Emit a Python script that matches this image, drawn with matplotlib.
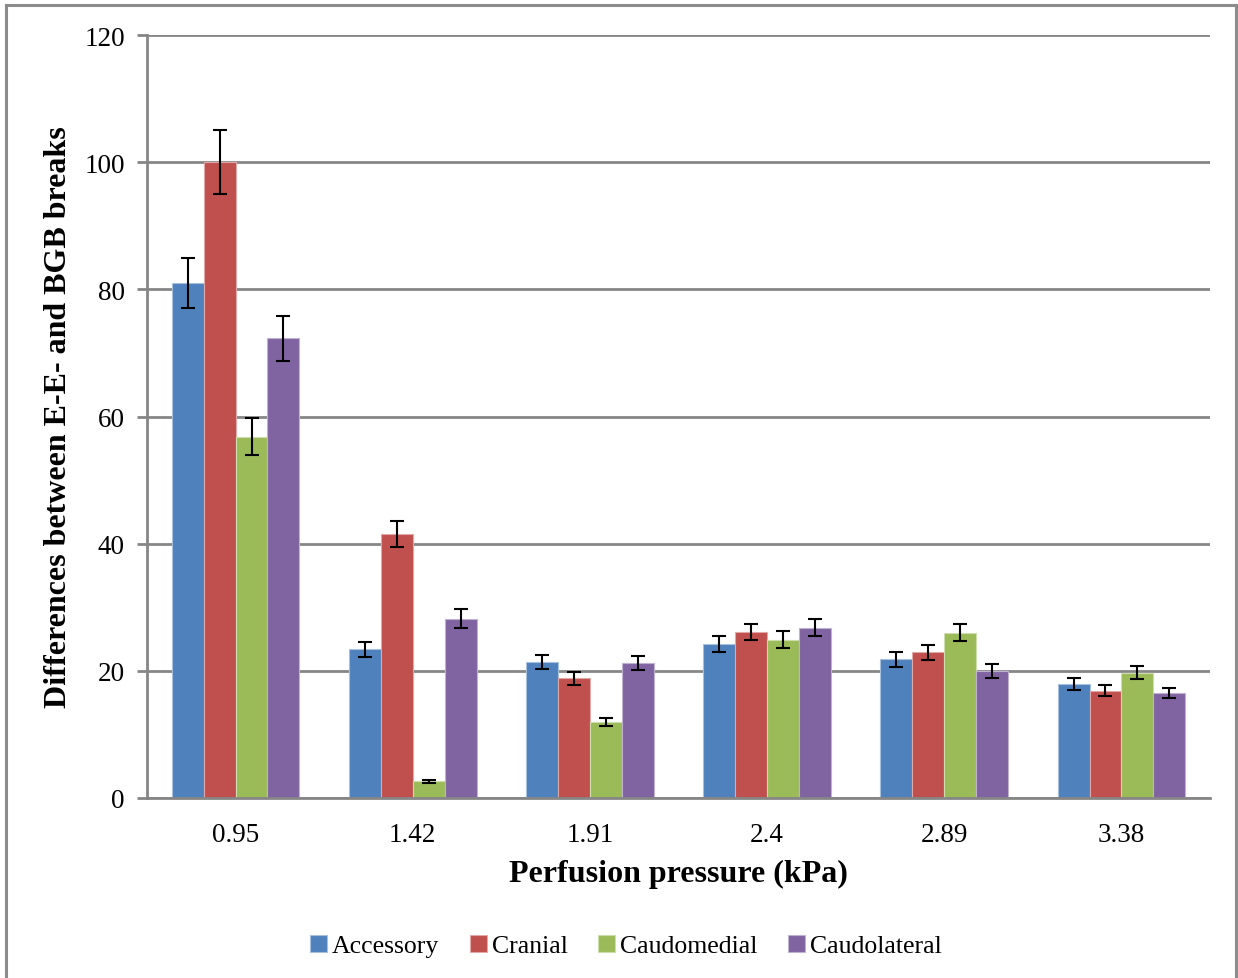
import numpy as np
import matplotlib
matplotlib.use("Agg")
import matplotlib.pyplot as plt
from matplotlib.lines import Line2D

plt.rcParams["font.family"] = ["Liberation Serif", "DejaVu Serif"]

# data
pressures = ["0.95", "1.42", "1.91", "2.4", "2.89", "3.38"]
series = ["Accessory", "Cranial", "Caudomedial", "Caudolateral"]

accessory = [81.0, 23.4, 21.4, 24.2, 21.8, 18.0]
cranial = [100.0, 41.5, 18.8, 26.1, 22.9, 16.9]
caudomedial = [56.8, 2.6, 12.0, 24.9, 26.0, 19.7]
caudolateral = [72.3, 28.2, 21.3, 26.8, 20.0, 16.5]

accessory_err = [4.0, 1.2, 1.1, 1.2, 1.15, 0.95]
cranial_err = [5.0, 2.1, 1.0, 1.3, 1.2, 0.85]
caudomedial_err = [2.9, 0.2, 0.65, 1.3, 1.35, 1.0]
caudolateral_err = [3.5, 1.5, 1.1, 1.4, 1.1, 0.85]

COLORS = ["#4F81BD", "#C0504D", "#9BBB59", "#8064A2"]
EDGES = ["#A7C0DE", "#E0A8A6", "#CDDDAC", "#BFB1D0"]

values = [accessory, cranial, caudomedial, caudolateral]
errors = [accessory_err, cranial_err, caudomedial_err, caudolateral_err]

fig = plt.figure(figsize=(12.38, 9.79), dpi=100)
ax = fig.add_axes([147 / 1238, 1 - 799 / 979, 1063 / 1238, 763 / 979])

# outer chart border
for xs, ys in [([6 / 1238, 1236 / 1238], [1 - 6 / 979] * 2),
               ([6 / 1238] * 2, [0, 1 - 6 / 979]),
               ([1236 / 1238] * 2, [0, 1 - 6 / 979])]:
    fig.add_artist(Line2D(xs, ys, color="#8C8C8C", linewidth=2.2))

x = np.arange(len(pressures))
width = 0.18
for i, (vals, errs) in enumerate(zip(values, errors)):
    pos = x + (i - 1.5) * width
    ax.bar(pos, vals, width, color=COLORS[i], edgecolor=EDGES[i],
           linewidth=0.8, label=series[i], zorder=3)
    ax.errorbar(pos, vals, yerr=errs, fmt="none", ecolor="black",
                elinewidth=1.5, capsize=5, capthick=1.5, zorder=4)

ax.set_xlim(-0.5, len(pressures) - 0.5)
ax.set_ylim(0, 120)
ax.set_yticks(range(0, 121, 20))
ax.set_xticks(x)
ax.set_xticklabels(pressures)
ax.grid(axis="y", color="#868686", linewidth=2, zorder=0)
ax.set_axisbelow(True)

for s in ["top", "right"]:
    ax.spines[s].set_visible(False)
ax.spines["left"].set_color("#868686")
ax.spines["left"].set_linewidth(2)
ax.spines["bottom"].set_color("#868686")
ax.spines["bottom"].set_linewidth(2)
ax.spines["bottom"].set_zorder(5)
ax.tick_params(axis="y", length=7, width=2, color="#868686", labelsize=19.5, pad=9)
ax.tick_params(axis="x", length=0, labelsize=19.5, pad=17)

ax.set_xlabel("Perfusion pressure (kPa)", fontsize=23, fontweight="bold", labelpad=9)
ax.set_ylabel("Differences between E-E- and BGB breaks", fontsize=23,
              fontweight="bold", labelpad=8)

fig.legend(loc="center", bbox_to_anchor=(626 / 1238, 1 - 947 / 979), ncol=4,
           frameon=False, fontsize=18.5, handlelength=0.65, handleheight=0.65,
           handletextpad=0.2, columnspacing=1.2)

fig.savefig("out.png", dpi=100)
